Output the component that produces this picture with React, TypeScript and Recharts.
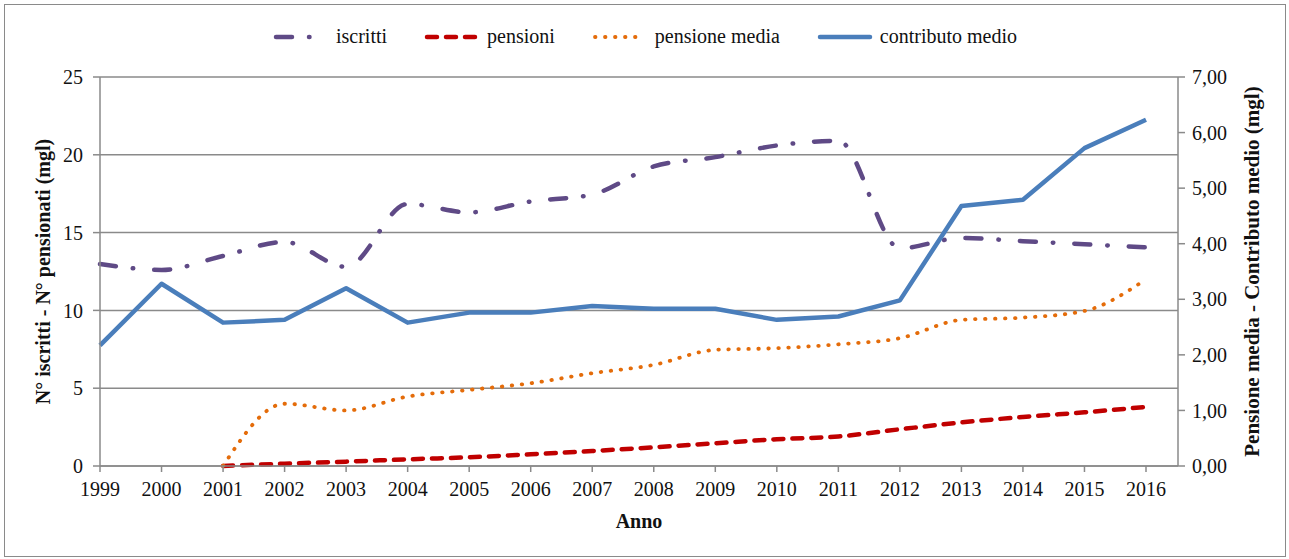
import { LineChart, Line, XAxis, YAxis, CartesianGrid } from "recharts";

const years = ["1999", "2000", "2001", "2002", "2003", "2004", "2005", "2006", "2007", "2008", "2009", "2010", "2011", "2012", "2013", "2014", "2015", "2016"];
const iscritti = [12.98, 12.6, 13.5, 14.4, 12.8, 16.84, 16.3, 17.0, 17.45, 19.25, 19.85, 20.6, 20.9, 14.0, 14.65, 14.45, 14.25, 14.05];
const pensioni = [null, null, 0, 0.15, 0.28, 0.43, 0.56, 0.75, 0.96, 1.2, 1.46, 1.72, 1.9, 2.36, 2.8, 3.15, 3.45, 3.8];
const pensioneMedia = [null, null, 0, 1.12, 1.0, 1.25, 1.37, 1.49, 1.67, 1.82, 2.09, 2.12, 2.19, 2.3, 2.63, 2.67, 2.79, 3.36];
const contributoMedio = [2.17, 3.28, 2.58, 2.63, 3.2, 2.58, 2.76, 2.76, 2.88, 2.83, 2.83, 2.63, 2.69, 2.98, 4.68, 4.79, 5.72, 6.23];
const leftTicks = [0, 5, 10, 15, 20, 25];
const rightTicks = [0, 1, 2, 3, 4, 5, 6, 7];

const data = years.map((year, i) => ({
  year,
  iscritti: iscritti[i],
  pensioni: pensioni[i],
  pensioneMedia: pensioneMedia[i],
  contributoMedio: contributoMedio[i],
}));

const GRAY = "#8a8a8a";
const FONT = "Liberation Serif, DejaVu Serif, serif";

const SERIES = [
  { key: "iscritti", name: "iscritti", color: "#5f4a86", dash: "16 17 0.5 21", width: 4.5 },
  { key: "pensioni", name: "pensioni", color: "#c00000", dash: "10 9", width: 4.5 },
  { key: "pensioneMedia", name: "pensione media", color: "#e46c0a", dash: "0.5 9.5", width: 3.8 },
  { key: "contributoMedio", name: "contributo medio", color: "#4a7ebb", dash: undefined, width: 4.5 },
];

const tickStyle = { fontFamily: FONT, fontSize: 20, fill: "#111" };

function LeftTitle({ viewBox }: any) {
  const cy = viewBox.y + viewBox.height / 2;
  return (
    <text x={50} y={cy} transform={`rotate(-90 50 ${cy})`} textAnchor="middle" style={{ fontFamily: FONT }} fontSize={20} fontWeight="bold" fill="#111">
      N° iscritti - N° pensionati (mgl)
    </text>
  );
}

function RightTitle({ viewBox }: any) {
  const cy = viewBox.y + viewBox.height / 2;
  return (
    <text x={1259} y={cy} transform={`rotate(-90 1259 ${cy})`} textAnchor="middle" style={{ fontFamily: FONT }} fontSize={21} fontWeight="bold" fill="#111">
      Pensione media - Contributo medio (mgl)
    </text>
  );
}

function LegendBar() {
  return (
    <div
      style={{
        position: "absolute",
        top: 25,
        left: 0,
        width: 1289,
        display: "flex",
        justifyContent: "center",
        gap: 36,
        fontFamily: FONT,
        fontSize: 20,
        color: "#111",
      }}
    >
      {SERIES.map((s) => (
        <div key={s.key} style={{ display: "flex", alignItems: "center", gap: 6 }}>
          <svg width={58} height={12}>
            <line x1={4} y1={6} x2={54} y2={6} stroke={s.color} strokeWidth={s.width} strokeDasharray={s.dash} strokeLinecap="round" />
          </svg>
          <span>{s.name}</span>
        </div>
      ))}
    </div>
  );
}

export default function App() {
  return (
    <div style={{ position: "absolute", left: 0, top: 0, width: 1289, height: 559, background: "#fff", fontFamily: FONT }}>
      <div
        style={{
          position: "absolute",
          left: 4,
          top: 4,
          width: 1280,
          height: 551,
          border: `1.5px solid ${GRAY}`,
        }}
      />
      <LegendBar />
      <div style={{ position: "absolute", left: 0, top: 0 }}>
        <LineChart width={1289} height={559} data={data} margin={{ top: 77, right: 11, bottom: 33, left: 5 }} style={{ fontFamily: FONT }}>
          <CartesianGrid yAxisId="left" vertical={false} stroke={GRAY} strokeWidth={1.5} />
          <XAxis
            dataKey="year"
            interval={0}
            padding={{ left: 0, right: 32 }}
            tick={tickStyle}
            tickSize={6}
            tickMargin={10}
            stroke={GRAY}
            strokeWidth={1.5}
            height={60}
            label={{ value: "Anno", position: "insideBottom", offset: -2, style: { fontFamily: FONT, fontSize: 20, fontWeight: "bold", fill: "#111" } }}
          />
          <YAxis
            yAxisId="left"
            domain={[0, 25]}
            ticks={leftTicks}
            tick={tickStyle}
            tickSize={7}
            tickMargin={10}
            stroke={GRAY}
            strokeWidth={1.5}
            width={95}
            label={<LeftTitle />}
          />
          <YAxis
            yAxisId="right"
            orientation="right"
            domain={[0, 7]}
            ticks={rightTicks}
            tickFormatter={(v: number) => v.toFixed(2).replace(".", ",")}
            tick={tickStyle}
            tickSize={7}
            tickMargin={7}
            stroke={GRAY}
            strokeWidth={1.5}
            width={100}
            label={<RightTitle />}
          />
          <Line yAxisId="left" type="monotone" dataKey="iscritti" name="iscritti" stroke={SERIES[0].color} strokeWidth={SERIES[0].width} strokeDasharray={SERIES[0].dash} strokeLinecap="round" dot={false} isAnimationActive={false} />
          <Line yAxisId="left" type="monotone" dataKey="pensioni" name="pensioni" stroke={SERIES[1].color} strokeWidth={SERIES[1].width} strokeDasharray={SERIES[1].dash} strokeLinecap="round" dot={false} isAnimationActive={false} />
          <Line yAxisId="right" type="monotone" dataKey="pensioneMedia" name="pensione media" stroke={SERIES[2].color} strokeWidth={SERIES[2].width} strokeDasharray={SERIES[2].dash} strokeLinecap="round" dot={false} isAnimationActive={false} />
          <Line yAxisId="right" type="linear" dataKey="contributoMedio" name="contributo medio" stroke={SERIES[3].color} strokeWidth={SERIES[3].width} strokeLinejoin="round" dot={false} isAnimationActive={false} />
        </LineChart>
      </div>
    </div>
  );
}
